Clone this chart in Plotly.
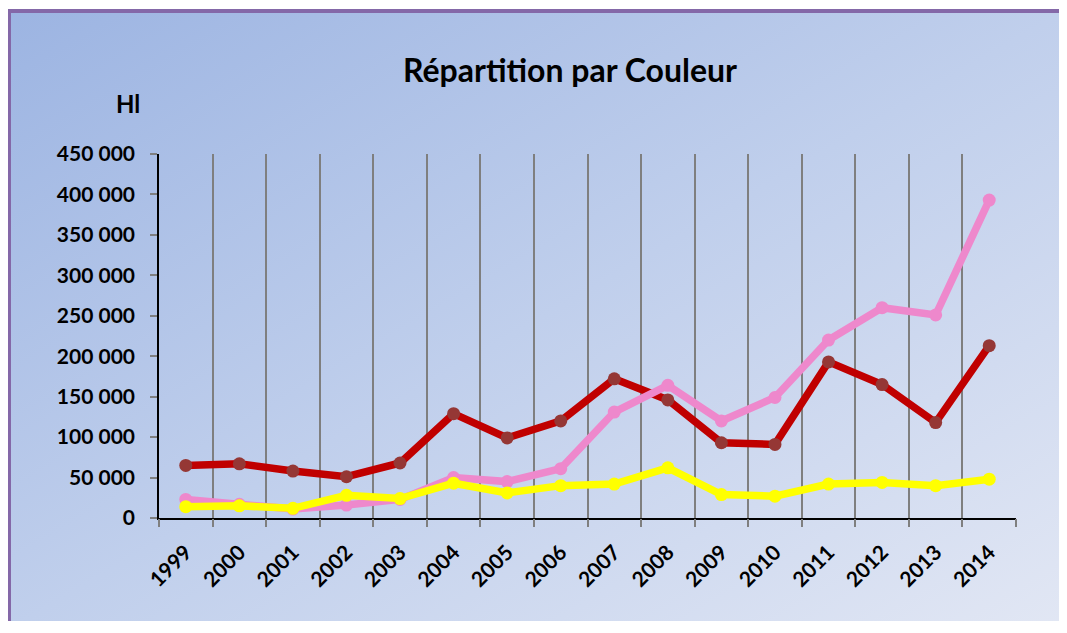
import plotly.graph_objects as go
import base64

years = [str(y) for y in range(1999, 2015)]
rouge = [65000, 67000, 58000, 51000, 68000, 129000, 99000, 120000, 172000, 146000, 93000, 91000, 193000, 165000, 118000, 213000]
rose = [23000, 17000, 11000, 16000, 23000, 50000, 45000, 61000, 131000, 164000, 120000, 149000, 220000, 260000, 251000, 393000]
blanc = [14000, 15000, 12000, 28000, 24000, 43000, 31000, 40000, 42000, 62000, 29000, 27000, 42000, 44000, 40000, 48000]

# page body has an 8px margin: figure origin is at screen (8, 8)
OX, OY = 8, 8
W, H = 1067 - 2 * OX, 633 - 2 * OY - 4
L, R, T, B = 159 - OX, 1016 - OX, 154 - OY, 518 - OY
pw, ph = R - L, B - T

FONT = "Lato"

fig = go.Figure()
xs = list(range(len(years)))
series = [
    ("Rouge", rouge, "#C00000", "#953735"),
    ("Rosé", rose, "#EE88CC", "#EE88CC"),
    ("Blanc", blanc, "#FFFF00", "#FFFF00"),
]
for name, vals, lc, mc in series:
    fig.add_trace(go.Scatter(
        x=xs, y=vals, name=name, mode="lines+markers",
        line=dict(color=lc, width=7.5),
        marker=dict(color=mc, size=13),
        xaxis="x", yaxis="y",
    ))
fig.add_trace(go.Scatter(x=[-0.5], y=[0], xaxis="x2", yaxis="y", mode="markers",
                         marker=dict(opacity=0), showlegend=False, hoverinfo="skip"))

# background gradient with purple frame (frame starts at screen (7, 9))
fx, fy = 7 - OX, 9 - OY
bw, bh = W - fx + 10, H - fy + 10
svg = f'''<svg xmlns="http://www.w3.org/2000/svg" width="{bw}" height="{bh}" viewBox="0 0 {bw} {bh}">
<defs><linearGradient id="g" x1="0" y1="0" x2="1" y2="1">
<stop offset="0" stop-color="#9CB4E2"/><stop offset="0.5" stop-color="#C0CFEC"/><stop offset="1" stop-color="#E2E7F4"/>
</linearGradient></defs>
<rect x="0" y="0" width="{bw}" height="{bh}" fill="url(#g)"/>
<rect x="0" y="0" width="{bw}" height="4" fill="#8468A8"/>
<rect x="0" y="0" width="4" height="{bh}" fill="#8468A8"/>
</svg>'''
src = "data:image/svg+xml;base64," + base64.b64encode(svg.encode()).decode()
fig.add_layout_image(dict(
    source=src, xref="paper", yref="paper",
    x=(fx - L) / pw, y=1 + (T - fy) / ph,
    sizex=bw / pw, sizey=bh / ph,
    xanchor="left", yanchor="top", sizing="stretch", layer="below",
))

fig.update_layout(
    width=W, height=H,
    margin=dict(l=L, r=W - R, t=T, b=H - B, pad=0),
    paper_bgcolor="white", plot_bgcolor="rgba(0,0,0,0)",
    showlegend=False,
    separators=", ",
    font=dict(family=FONT, color="black"),
    xaxis=dict(
        range=[-0.5, len(years) - 0.5], tickvals=xs, ticktext=years,
        tickangle=-45, ticks="", showgrid=False, zeroline=False,
        showline=True, linecolor="black", linewidth=1.5,
        tickfont=dict(size=21, family=FONT, color="black", weight="bold"),
        ticklabelstandoff=12,
    ),
    xaxis2=dict(
        overlaying="x", side="bottom", range=[-0.5, len(years) - 0.5],
        tickvals=[i - 0.5 for i in range(len(years) + 1)],
        showticklabels=False, ticks="outside", ticklen=8, tickwidth=1.5,
        tickcolor="#7F7F7F", showgrid=True, gridcolor="#7F7F7F", gridwidth=2,
        zeroline=False, showline=False,
    ),
    yaxis=dict(
        range=[0, 450000], dtick=50000, tickformat=",d",
        showgrid=False, zeroline=False,
        showline=True, linecolor="black", linewidth=1.5,
        ticks="outside", ticklen=7, tickcolor="#7F7F7F", tickwidth=2,
        tickfont=dict(size=21, family=FONT, color="black", weight="bold"),
        ticklabelstandoff=11,
    ),
    title=dict(
        text="Répartition par Couleur", x=(570 - OX) / W, xanchor="center",
        y=1 - (71 - OY) / H, yanchor="middle",
        font=dict(size=32, family=FONT, color="black", weight="bold"),
    ),
    annotations=[dict(
        text="Hl", xref="paper", yref="paper",
        x=(128 - OX - L) / pw, y=1 + (T - (103 - OY)) / ph,
        xanchor="center", yanchor="middle", showarrow=False,
        font=dict(size=24, family=FONT, color="black", weight="bold"),
    )],
)

fig.write_html("out.html")
